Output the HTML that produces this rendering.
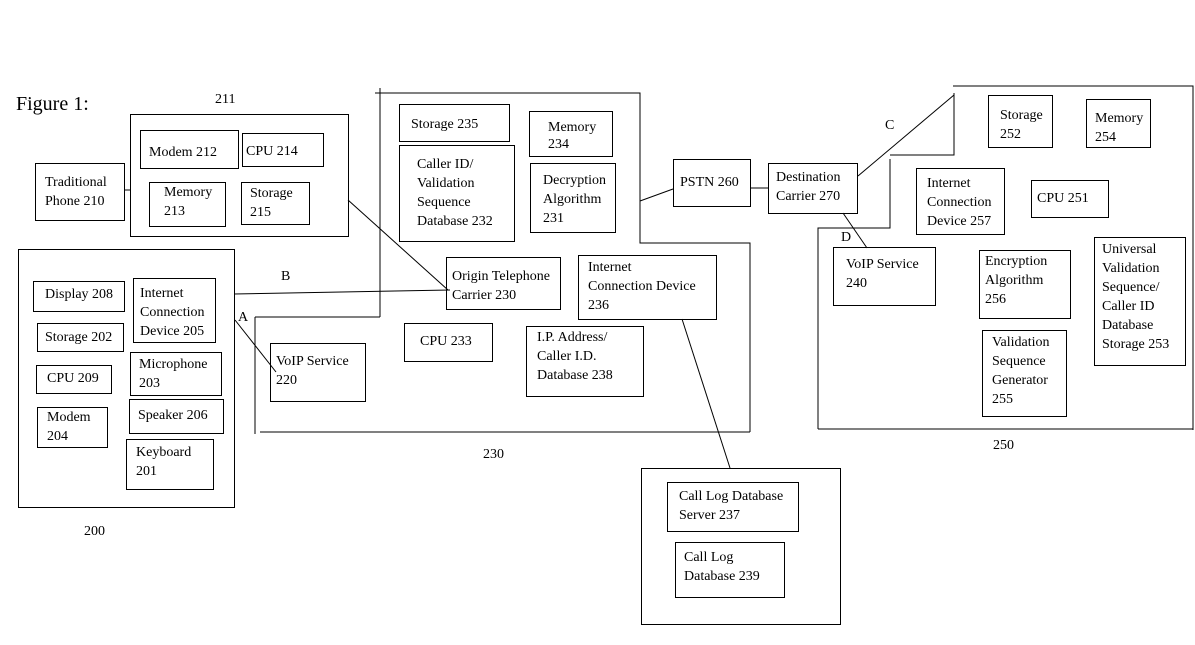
<!DOCTYPE html>
<html><head><meta charset="utf-8"><style>
body{margin:0;width:1195px;height:645px;background:#fff;position:relative;overflow:hidden;font-family:"Liberation Serif",serif;font-size:14px;color:#000}
.b{position:absolute;border:1px solid #000;box-sizing:border-box;line-height:19px;white-space:nowrap}
.t{position:absolute;line-height:19px;white-space:nowrap}
svg{position:absolute;left:0;top:0}
</style></head><body>
<svg width="1195" height="645" stroke="#000" stroke-width="1" fill="none">
<polyline points="375,93 640,93 640,243 750,243 750,432"/>
<line x1="380" y1="88" x2="380" y2="317"/>
<line x1="255" y1="317" x2="380" y2="317"/>
<line x1="255" y1="317" x2="255" y2="434"/>
<line x1="260" y1="432" x2="750" y2="432"/>
<polyline points="953,86 1193,86 1193,430"/>
<line x1="818" y1="429" x2="1193" y2="429"/>
<polyline points="818,429 818,228 890,228 890,159"/>
<polyline points="890,155 954,155 954,93"/>
<line x1="124" y1="190" x2="131" y2="190"/>
<line x1="234" y1="294" x2="450" y2="290"/>
<line x1="235" y1="320" x2="276" y2="372"/>
<line x1="348" y1="200" x2="448" y2="290"/>
<line x1="640" y1="201" x2="673" y2="189"/>
<line x1="750" y1="188" x2="768" y2="188"/>
<line x1="858" y1="176" x2="954" y2="95"/>
<line x1="843" y1="213" x2="867" y2="248"/>
<line x1="682" y1="319" x2="730" y2="468"/>
</svg>
<div class="t" style="left:16px;top:92px;font-size:20px;line-height:24px">Figure 1:</div>
<div class="t" style="left:215px;top:90px">211</div>
<div class="t" style="left:84px;top:522px">200</div>
<div class="t" style="left:483px;top:445px">230</div>
<div class="t" style="left:993px;top:436px">250</div>
<div class="t" style="left:281px;top:267px">B</div>
<div class="t" style="left:238px;top:308px">A</div>
<div class="t" style="left:885px;top:116px">C</div>
<div class="t" style="left:841px;top:228px">D</div>

<div class="b" style="left:35px;top:163px;width:90px;height:58px;padding:9px 0 0 9px">Traditional<br>Phone 210</div>
<div class="b" style="left:130px;top:114px;width:219px;height:123px"></div>
<div class="b" style="left:140px;top:130px;width:99px;height:39px;padding:12px 0 0 8px">Modem 212</div>
<div class="b" style="left:242px;top:133px;width:82px;height:34px;padding:8px 0 0 3px">CPU 214</div>
<div class="b" style="left:149px;top:182px;width:77px;height:45px;padding:0 0 0 14px">Memory<br>213</div>
<div class="b" style="left:241px;top:182px;width:69px;height:43px;padding:1px 0 0 8px">Storage<br>215</div>

<div class="b" style="left:18px;top:249px;width:217px;height:259px"></div>
<div class="b" style="left:33px;top:281px;width:92px;height:31px;padding:3px 0 0 11px">Display 208</div>
<div class="b" style="left:37px;top:323px;width:87px;height:29px;padding:4px 0 0 7px">Storage 202</div>
<div class="b" style="left:36px;top:365px;width:76px;height:29px;padding:3px 0 0 10px">CPU 209</div>
<div class="b" style="left:37px;top:407px;width:71px;height:41px;padding:0 0 0 9px">Modem<br>204</div>
<div class="b" style="left:133px;top:278px;width:83px;height:65px;padding:5px 0 0 6px">Internet<br>Connection<br>Device 205</div>
<div class="b" style="left:130px;top:352px;width:92px;height:44px;padding:2px 0 0 8px">Microphone<br>203</div>
<div class="b" style="left:129px;top:399px;width:95px;height:35px;padding:6px 0 0 8px">Speaker 206</div>
<div class="b" style="left:126px;top:439px;width:88px;height:51px;padding:3px 0 0 9px">Keyboard<br>201</div>

<div class="b" style="left:270px;top:343px;width:96px;height:59px;padding:8px 0 0 5px">VoIP Service<br>220</div>

<div class="b" style="left:399px;top:104px;width:111px;height:38px;padding:13px 0 0 11px;line-height:14px">Storage 235</div>
<div class="b" style="left:529px;top:111px;width:84px;height:46px;padding:7px 0 0 18px;line-height:17px">Memory<br>234</div>
<div class="b" style="left:399px;top:145px;width:116px;height:97px;padding:9px 0 0 17px">Caller ID/<br>Validation<br>Sequence<br>Database 232</div>
<div class="b" style="left:530px;top:163px;width:86px;height:70px;padding:7px 0 0 12px">Decryption<br>Algorithm<br>231</div>
<div class="b" style="left:446px;top:257px;width:115px;height:53px;padding:9px 0 0 5px">Origin Telephone<br>Carrier 230</div>
<div class="b" style="left:578px;top:255px;width:139px;height:65px;padding:2px 0 0 9px">Internet<br>Connection Device<br>236</div>
<div class="b" style="left:404px;top:323px;width:89px;height:39px;padding:8px 0 0 15px">CPU 233</div>
<div class="b" style="left:526px;top:326px;width:118px;height:71px;padding:1px 0 0 10px">I.P. Address/<br>Caller I.D.<br>Database 238</div>

<div class="b" style="left:673px;top:159px;width:78px;height:48px;padding:13px 0 0 6px">PSTN 260</div>
<div class="b" style="left:768px;top:163px;width:90px;height:51px;padding:4px 0 0 7px">Destination<br>Carrier 270</div>

<div class="b" style="left:988px;top:95px;width:65px;height:53px;padding:10px 0 0 11px">Storage<br>252</div>
<div class="b" style="left:1086px;top:99px;width:65px;height:49px;padding:9px 0 0 8px">Memory<br>254</div>
<div class="b" style="left:916px;top:168px;width:89px;height:67px;padding:5px 0 0 10px">Internet<br>Connection<br>Device 257</div>
<div class="b" style="left:1031px;top:180px;width:78px;height:38px;padding:8px 0 0 5px">CPU 251</div>
<div class="b" style="left:833px;top:247px;width:103px;height:59px;padding:7px 0 0 12px">VoIP Service<br>240</div>
<div class="b" style="left:979px;top:250px;width:92px;height:69px;padding:1px 0 0 5px">Encryption<br>Algorithm<br>256</div>
<div class="b" style="left:982px;top:330px;width:85px;height:87px;padding:2px 0 0 9px">Validation<br>Sequence<br>Generator<br>255</div>
<div class="b" style="left:1094px;top:237px;width:92px;height:129px;padding:2px 0 0 7px">Universal<br>Validation<br>Sequence/<br>Caller ID<br>Database<br>Storage 253</div>

<div class="b" style="left:641px;top:468px;width:200px;height:157px"></div>
<div class="b" style="left:667px;top:482px;width:132px;height:50px;padding:4px 0 0 11px">Call Log Database<br>Server 237</div>
<div class="b" style="left:675px;top:542px;width:110px;height:56px;padding:5px 0 0 8px">Call Log<br>Database 239</div>
</body></html>
